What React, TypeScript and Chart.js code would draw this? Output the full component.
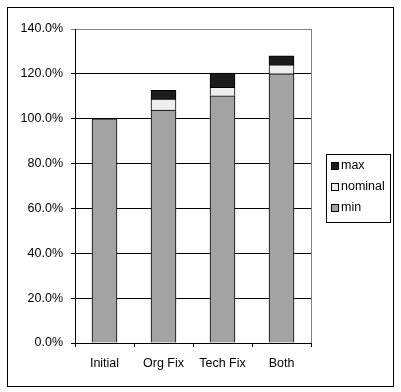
import React, { useEffect, useRef } from "react";
import { Chart, registerables } from "chart.js";

Chart.register(...registerables);

const categories = ["Initial", "Org Fix", "Tech Fix", "Both"];
const minValues = [100, 103.8, 110.2, 120];
const nominalValues = [null, 5.0, 3.8, 4.0];
const maxValues = [null, 3.9, 6.4, 4.0];
const yTicks = [0, 20, 40, 60, 80, 100, 120, 140];

const FONT = "'Liberation Sans', Arial, sans-serif";

const framePlugin = {
  id: "frame",
  afterDraw(chart: any) {
    const { ctx, chartArea } = chart;
    ctx.save();
    // right border of plot area (gray)
    ctx.strokeStyle = "#808080";
    ctx.lineWidth = 1;
    ctx.beginPath();
    ctx.moveTo(Math.round(chartArea.right) + 0.5, chartArea.top);
    ctx.lineTo(Math.round(chartArea.right) + 0.5, chartArea.bottom);
    ctx.stroke();
    // outer frame
    ctx.strokeStyle = "#000";
    ctx.strokeRect(7.5, 7.5, 386, 379);
    // legend
    const lx = 326.5, ly = 154.5, lw = 64, lh = 68;
    ctx.fillStyle = "#fff";
    ctx.fillRect(lx, ly, lw, lh);
    ctx.strokeRect(lx, ly, lw, lh);
    const items = [...chart.data.datasets].reverse();
    ctx.font = `12.5px ${FONT}`;
    ctx.textBaseline = "middle";
    items.forEach((ds: any, i: number) => {
      const cy = 166 + i * 21;
      ctx.fillStyle = ds.backgroundColor;
      ctx.fillRect(331, cy - 3, 7, 7);
      ctx.strokeStyle = "#000";
      ctx.strokeRect(331.5, cy - 3.5, 7, 7);
      ctx.fillStyle = "#000";
      ctx.fillText(ds.label, 341, cy);
    });
    ctx.restore();
  },
};

export default function App() {
  const ref = useRef<HTMLCanvasElement>(null);
  useEffect(() => {
    document.body.style.margin = "0";
    const chart = new Chart(ref.current!, {
      type: "bar",
      data: {
        labels: categories,
        datasets: [
          { label: "min", data: minValues, backgroundColor: "#A3A3A3" },
          { label: "nominal", data: nominalValues, backgroundColor: "#EEEEEE" },
          { label: "max", data: maxValues, backgroundColor: "#1C1C1C" },
        ].map((d) => ({
          ...d,
          borderColor: "#000",
          borderWidth: 1,
          barThickness: 25,
        })),
      },
      options: {
        responsive: false,
        animation: false,
        devicePixelRatio: 1,
        layout: { padding: { left: 0, top: 29, right: 90, bottom: 0 } },
        plugins: { legend: { display: false }, tooltip: { enabled: false } },
        scales: {
          x: {
            stacked: true,
            offset: true,
            grid: {
              display: true,
              offset: true,
              drawOnChartArea: false,
              drawTicks: true,
              tickLength: 4,
              color: "#000",
            },
            border: { display: true, color: "#000" },
            ticks: { color: "#000", font: { family: FONT, size: 12.5 }, padding: 9 },
            afterFit: (s: any) => {
              s.height = 49;
            },
          },
          y: {
            stacked: true,
            min: 0,
            max: 140,
            afterBuildTicks: (s: any) => {
              s.ticks = yTicks.map((v) => ({ value: v }));
            },
            grid: {
              color: (c: any) => (c.tick && c.tick.value === 140 ? "#808080" : "#000"),
              tickLength: 4,
              drawTicks: true,
            },
            border: { display: true, color: "#000" },
            ticks: {
              color: "#000",
              font: { family: FONT, size: 12.5 },
              padding: 8,
              callback: (v: any) => Number(v).toFixed(1) + "%",
            },
            afterFit: (s: any) => {
              s.width = 75;
            },
          },
        },
      },
      plugins: [framePlugin],
    });
    return () => chart.destroy();
  }, []);
  return (
    <div style={{ width: 401, height: 392 }}>
      <canvas ref={ref} width={401} height={392} style={{ display: "block" }} />
    </div>
  );
}
